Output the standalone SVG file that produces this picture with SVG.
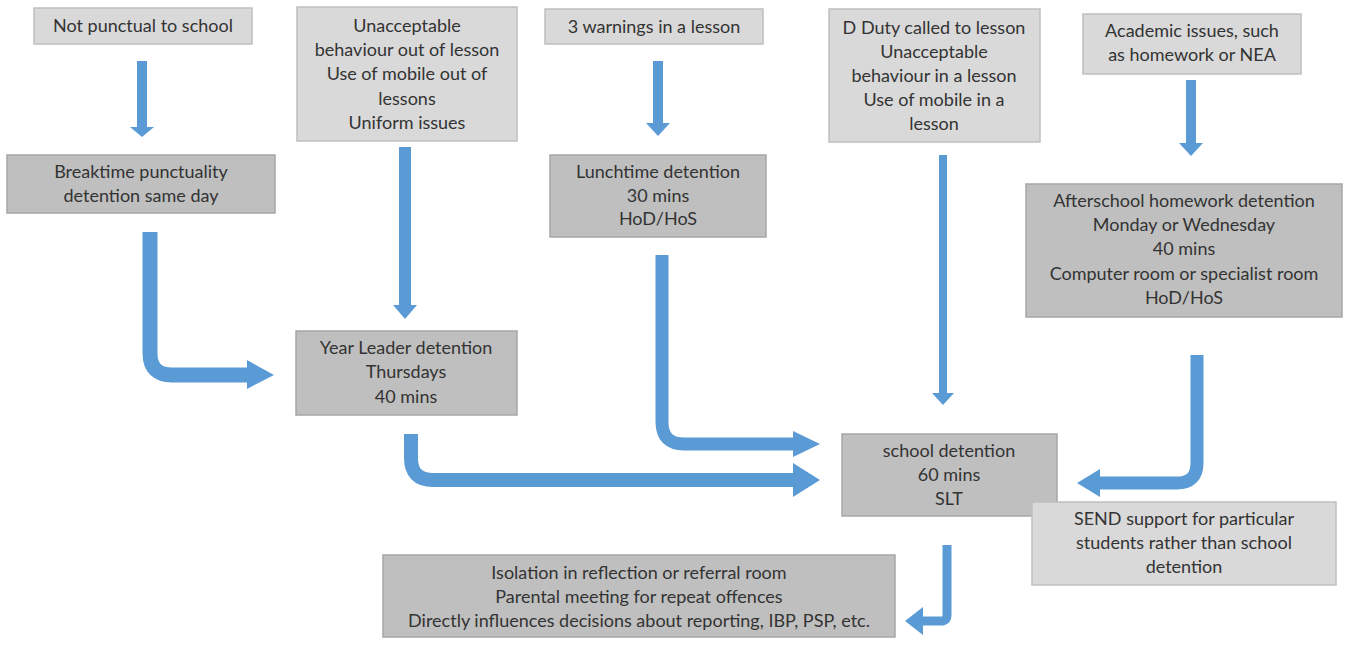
<svg xmlns="http://www.w3.org/2000/svg" width="1346" height="646" viewBox="0 0 1346 646">
<style>
.light{fill:#D9D9D9;stroke:#BFBFBF;stroke-width:1.5}
.dark{fill:#BFBFBF;stroke:#A6A6A6;stroke-width:1.5}
text{font-family:Lato,"Open Sans","Liberation Sans",sans-serif;font-size:18px;fill:#333333;text-anchor:middle}
.shaft{fill:none;stroke:#5B9BD5;stroke-linejoin:round}
.head{fill:#5B9BD5}
</style>
<rect width="1346" height="646" fill="#FFFFFF"/>
<g id="connectors">
  <path class="shaft" d="M142,61 V128" stroke-width="10"/>
  <polygon class="head" points="130,127 154,127 142,137"/>
  <path class="shaft" d="M405,147 V306" stroke-width="12"/>
  <polygon class="head" points="393,305 417,305 405,319"/>
  <path class="shaft" d="M658,61 V124" stroke-width="10"/>
  <polygon class="head" points="646,123 670,123 658,136"/>
  <path class="shaft" d="M1191,80 V144" stroke-width="10"/>
  <polygon class="head" points="1179,143 1203,143 1191,156"/>
  <path class="shaft" d="M943,155 V394" stroke-width="8"/>
  <polygon class="head" points="932,393 954,393 943,405"/>
  <path class="shaft" d="M150,232 V353 Q150,375 172,375 H248" stroke-width="15"/>
  <polygon class="head" points="247,360 247,389 274,375"/>
  <path class="shaft" d="M662,255 V422 Q662,444 684,444 H794" stroke-width="13"/>
  <polygon class="head" points="793,431 793,457 820,444"/>
  <path class="shaft" d="M411,434 V458 Q411,480 433,480 H794" stroke-width="14"/>
  <polygon class="head" points="793,463 793,497 820,480"/>
  <path class="shaft" d="M1197,355 V463 Q1197,483 1177,483 H1099" stroke-width="13"/>
  <polygon class="head" points="1100,469 1100,497 1077,483"/>
  <path class="shaft" d="M947,545 V615 Q947,621 941,621 H922" stroke-width="9"/>
  <polygon class="head" points="923,607 923,635 905,621"/>
</g>
<g id="n-notpunctual">
  <rect class="light" x="34" y="8" width="218" height="36"/>
  <text x="143" y="32">Not punctual to school</text>
</g>
<g id="n-outoflesson">
  <rect class="light" x="297" y="7" width="220" height="134"/>
  <text x="407" y="32">Unacceptable</text>
  <text x="407" y="56">behaviour out of lesson</text>
  <text x="407" y="80">Use of mobile out of</text>
  <text x="407" y="105">lessons</text>
  <text x="407" y="129">Uniform issues</text>
</g>
<g id="n-warnings">
  <rect class="light" x="545" y="9" width="218" height="35"/>
  <text x="654" y="33">3 warnings in a lesson</text>
</g>
<g id="n-dduty">
  <rect class="light" x="829" y="9" width="211" height="133"/>
  <text x="934" y="34">D Duty called to lesson</text>
  <text x="934" y="58">Unacceptable</text>
  <text x="934" y="82">behaviour in a lesson</text>
  <text x="934" y="106">Use of mobile in a</text>
  <text x="934" y="130">lesson</text>
</g>
<g id="n-academic">
  <rect class="light" x="1083" y="14" width="218" height="60"/>
  <text x="1192" y="37">Academic issues, such</text>
  <text x="1192" y="61">as homework or NEA</text>
</g>
<g id="n-breaktime">
  <rect class="dark" x="7" y="155" width="268" height="58"/>
  <text x="141" y="178">Breaktime punctuality</text>
  <text x="141" y="202">detention same day</text>
</g>
<g id="n-lunchtime">
  <rect class="dark" x="550" y="155" width="216" height="82"/>
  <text x="658" y="178">Lunchtime detention</text>
  <text x="658" y="202">30 mins</text>
  <text x="658" y="225">HoD/HoS</text>
</g>
<g id="n-afterschool">
  <rect class="dark" x="1026" y="184" width="316" height="133"/>
  <text x="1184" y="207">Afterschool homework detention</text>
  <text x="1184" y="231">Monday or Wednesday</text>
  <text x="1184" y="255">40 mins</text>
  <text x="1184" y="280">Computer room or specialist room</text>
  <text x="1184" y="304">HoD/HoS</text>
</g>
<g id="n-yearleader">
  <rect class="dark" x="296" y="331" width="221" height="84"/>
  <text x="406" y="354">Year Leader detention</text>
  <text x="406" y="378">Thursdays</text>
  <text x="406" y="403">40 mins</text>
</g>
<g id="n-school">
  <rect class="dark" x="842" y="434" width="215" height="82"/>
  <text x="949" y="457">school detention</text>
  <text x="949" y="481">60 mins</text>
  <text x="949" y="505">SLT</text>
</g>
<g id="n-send">
  <rect class="light" x="1032" y="502" width="304" height="83"/>
  <text x="1184" y="525">SEND support for particular</text>
  <text x="1184" y="549">students rather than school</text>
  <text x="1184" y="573">detention</text>
</g>
<g id="n-isolation">
  <rect class="dark" x="383" y="555" width="512" height="82"/>
  <text x="639" y="579">Isolation in reflection or referral room</text>
  <text x="639" y="603">Parental meeting for repeat offences</text>
  <text x="639" y="627">Directly influences decisions about reporting, IBP, PSP, etc.</text>
</g>
</svg>
